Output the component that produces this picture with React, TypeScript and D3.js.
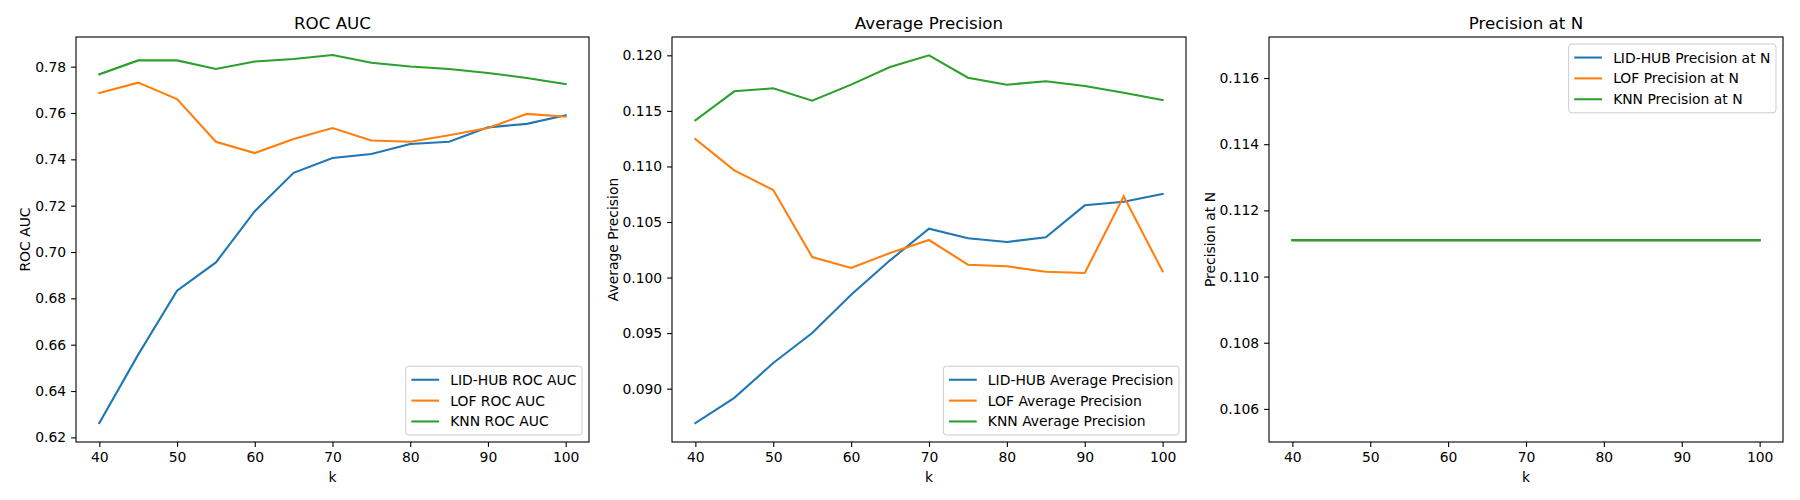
import React, { useEffect, useRef } from "react";
import * as d3 from "d3";

// k values shared by all panels
const ks = [40, 45, 50, 55, 60, 65, 70, 75, 80, 85, 90, 95, 100];

const lidRoc = [0.6262, 0.6557, 0.6833, 0.6955, 0.7176, 0.7342, 0.7406, 0.7423, 0.7466, 0.7476, 0.7538, 0.7553, 0.759];
const lofRoc = [0.7686, 0.7731, 0.766, 0.7476, 0.7427, 0.7488, 0.7535, 0.7481, 0.7476, 0.7504, 0.7535, 0.7596, 0.7584];
const knnRoc = [0.7767, 0.7827, 0.7827, 0.779, 0.7822, 0.7833, 0.785, 0.7817, 0.7801, 0.779, 0.7773, 0.7751, 0.7725];

const lidAp = [0.08691, 0.08917, 0.09231, 0.09501, 0.09846, 0.10155, 0.1044, 0.10353, 0.1032, 0.10362, 0.1065, 0.10683, 0.10752];
const lofAp = [0.11247, 0.10965, 0.10788, 0.10185, 0.10086, 0.10221, 0.10338, 0.10116, 0.10101, 0.10053, 0.10041, 0.10731, 0.10056];
const knnAp = [0.11415, 0.11676, 0.11703, 0.11592, 0.11736, 0.11895, 0.12, 0.11799, 0.11736, 0.11766, 0.11724, 0.11664, 0.11598];

const lidPn = ks.map(() => 0.1111);
const lofPn = ks.map(() => 0.1111);
const knnPn = ks.map(() => 0.1111);

const xTicks = [40, 50, 60, 70, 80, 90, 100];
const rocTicks = [0.62, 0.64, 0.66, 0.68, 0.7, 0.72, 0.74, 0.76, 0.78];
const apTicks = [0.09, 0.095, 0.1, 0.105, 0.11, 0.115, 0.12];
const pnTicks = [0.106, 0.108, 0.11, 0.112, 0.114, 0.116];

const methods = ["LID-HUB", "LOF", "KNN"];
const colors = ["#1f77b4", "#ff7f0e", "#2ca02c"];

interface Panel {
  title: string;
  left: number;
  right: number;
  yDomain: [number, number];
  yTicks: number[];
  fmt: string;
  series: number[][];
  legendTop: boolean;
}

const panels: Panel[] = [
  { title: "ROC AUC", left: 76, right: 589, yDomain: [0.618, 0.7928], yTicks: rocTicks, fmt: ".2f", series: [lidRoc, lofRoc, knnRoc], legendTop: false },
  { title: "Average Precision", left: 672, right: 1186, yDomain: [0.0852, 0.12165], yTicks: apTicks, fmt: ".3f", series: [lidAp, lofAp, knnAp], legendTop: false },
  { title: "Precision at N", left: 1269, right: 1783, yDomain: [0.105, 0.11724], yTicks: pnTicks, fmt: ".3f", series: [lidPn, lofPn, knnPn], legendTop: true },
];

const W = 1800;
const H = 500;
const top = 37;
const bottom = 442;
const font = "DejaVu Sans, sans-serif";
const fs = 13.9;

const App: React.FC = () => {
  const svgRef = useRef<SVGSVGElement | null>(null);

  useEffect(() => {
    document.body.style.margin = "0";
    const svg = d3.select(svgRef.current);
    svg.selectAll("*").remove();
    svg.append("rect").attr("width", W).attr("height", H).attr("fill", "white");

    panels.forEach((p) => {
      const x = d3.scaleLinear().domain([37, 103]).range([p.left, p.right]);
      const y = d3.scaleLinear().domain(p.yDomain).range([bottom, top]);
      const g = svg.append("g").style("font-family", font);

      // x axis
      const xa = g.append("g").attr("transform", `translate(0,${bottom})`)
        .call(d3.axisBottom(x).tickValues(xTicks).tickSize(4.9).tickPadding(4.9).tickFormat(d3.format("d")));
      xa.select(".domain").remove();
      xa.selectAll("text").attr("font-size", fs).attr("font-family", font).attr("fill", "black");
      xa.selectAll("line").attr("stroke-width", 1.1);

      const ya = g.append("g").attr("transform", `translate(${p.left},0)`)
        .call(d3.axisLeft(y).tickValues(p.yTicks).tickSize(4.9).tickPadding(4.9).tickFormat(d3.format(p.fmt)));
      ya.select(".domain").remove();
      ya.selectAll("text").attr("font-size", fs).attr("font-family", font).attr("fill", "black");
      ya.selectAll("line").attr("stroke-width", 1.1);

      // lines
      const line = d3.line<number>().x((_, i) => x(ks[i])).y((d) => y(d));
      p.series.forEach((s, i) => {
        g.append("path").datum(s).attr("d", line).attr("fill", "none")
          .attr("stroke", colors[i]).attr("stroke-width", 2.08).attr("stroke-linecap", "square");
      });

      // frame
      g.append("rect").attr("x", p.left).attr("y", top).attr("width", p.right - p.left)
        .attr("height", bottom - top).attr("fill", "none").attr("stroke", "black").attr("stroke-width", 1.1);

      // titles
      g.append("text").attr("x", (p.left + p.right) / 2).attr("y", top - 8)
        .attr("text-anchor", "middle").attr("font-size", 16.7).text(p.title);
      g.append("text").attr("x", (p.left + p.right) / 2).attr("y", bottom + 40)
        .attr("text-anchor", "middle").attr("font-size", fs).text("k");
      const yl = p.left - (p.fmt === ".2f" ? 46 : 54);
      g.append("text").attr("transform", `translate(${yl},${(top + bottom) / 2}) rotate(-90)`)
        .attr("text-anchor", "middle").attr("font-size", fs).text(p.title);

      // legend
      const labels = methods.map((m) => `${m} ${p.title}`);
      const lg = g.append("g");
      const texts = labels.map((l) => lg.append("text").attr("font-size", fs).text(l));
      const tw = d3.max(texts, (t) => (t.node() as SVGTextElement).getComputedTextLength()) as number;
      const rowH = fs * 1.5;
      const bw = 5.6 + 27.8 + 11.1 + tw + 5.6;
      const bh = 5.6 * 2 + rowH * 3 - fs * 0.5 + 2;
      const bx = p.right - 7 - bw;
      const by = p.legendTop ? top + 7 : bottom - 7 - bh;
      lg.insert("rect", ":first-child").attr("x", bx).attr("y", by).attr("width", bw).attr("height", bh)
        .attr("rx", 3).attr("fill", "white").attr("fill-opacity", 0.8).attr("stroke", "#cccccc");
      texts.forEach((t, i) => {
        const cy = by + 5.6 + fs * 0.5 + 1 + i * rowH;
        t.attr("x", bx + 5.6 + 27.8 + 11.1).attr("y", cy).attr("dominant-baseline", "central");
        lg.append("line").attr("x1", bx + 5.6).attr("x2", bx + 5.6 + 27.8).attr("y1", cy).attr("y2", cy)
          .attr("stroke", colors[i]).attr("stroke-width", 2.08);
      });
    });
  }, []);

  return <svg ref={svgRef} width={W} height={H} style={{ display: "block" }} />;
};

export default App;
